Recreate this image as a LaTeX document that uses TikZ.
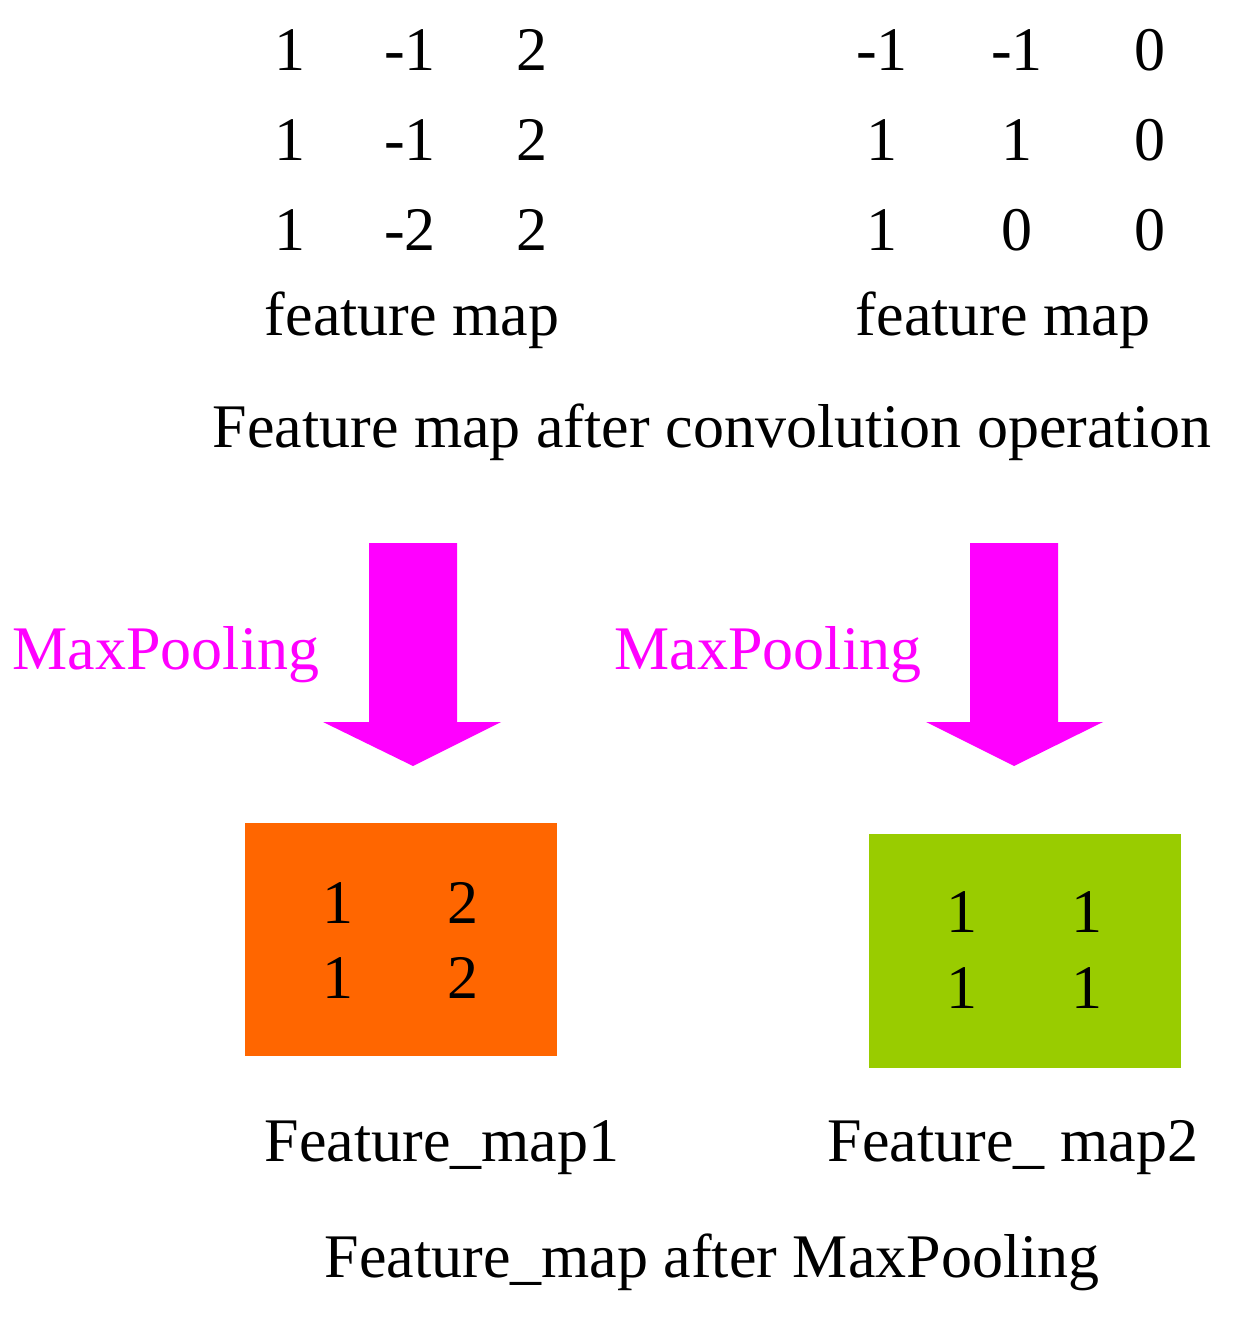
\documentclass[tikz,border=0pt]{standalone}
\usepackage{fontspec}
\setmainfont{Liberation Serif}
\definecolor{mag}{HTML}{FF00FF}
\definecolor{org}{HTML}{FF6600}
\definecolor{grn}{HTML}{99CC00}
\begin{document}
\begin{tikzpicture}[x=0.5pt,y=-0.5pt,
  t/.style={inner sep=0pt,font=\fontsize{31}{36}\selectfont},
  ml/.style={t,text=mag},
  arr/.style={fill=mag,draw=none}]
\useasboundingbox (0,0) rectangle (1240,1320);
% left matrix
\foreach \r/\y/\a/\b/\c in {1/50/1/-1/2,2/140/1/-1/2,3/230/1/-2/2}{
  \node[t] (l\r a) at (290,\y) {\a};
  \node[t] (l\r b) at (410,\y) {\b};
  \node[t] (l\r c) at (532,\y) {\c};}
\foreach \r/\y/\a/\b/\c in {1/50/-1/-1/0,2/140/1/1/0,3/230/1/0/0}{
  \node[t] (r\r a) at (882,\y) {\a};
  \node[t] (r\r b) at (1017,\y) {\b};
  \node[t] (r\r c) at (1150,\y) {\c};}
\node[t] (fl) at (412,320) {feature map};
\node[t] (fr) at (1003,320) {feature map};
\node[t] (conv) at (712,432) {Feature map after convolution operation};
% arrows
\path[arr] (369,543) -- (457,543) -- (457,722) -- (501,722) -- (413,766) -- (323,722) -- (369,722) -- cycle;
\path[arr] (970,543) -- (1058,543) -- (1058,722) -- (1103,722) -- (1014,766) -- (926,722) -- (970,722) -- cycle;
\node[ml] (mp1) at (166,655) {MaxPooling};
\node[ml] (mp2) at (768,655) {MaxPooling};
% boxes
\fill[org] (245,823) rectangle (557,1056);
\fill[grn] (869,834) rectangle (1181,1068);
\node[t] (o1) at (338,903) {1};
\node[t] (o2) at (463,903) {2};
\node[t] (o3) at (338,978) {1};
\node[t] (o4) at (463,978) {2};
\node[t] (g1) at (962,912) {1};
\node[t] (g2) at (1087,912) {1};
\node[t] (g3) at (962,988) {1};
\node[t] (g4) at (1087,988) {1};
\node[t] (fm1) at (442,1148) {Feature\_map1};
\node[t] (fm2) at (1013,1148) {Feature\_ map2};
\node[t] (fmm) at (712,1262) {Feature\_map after MaxPooling};
\end{tikzpicture}
\end{document}
